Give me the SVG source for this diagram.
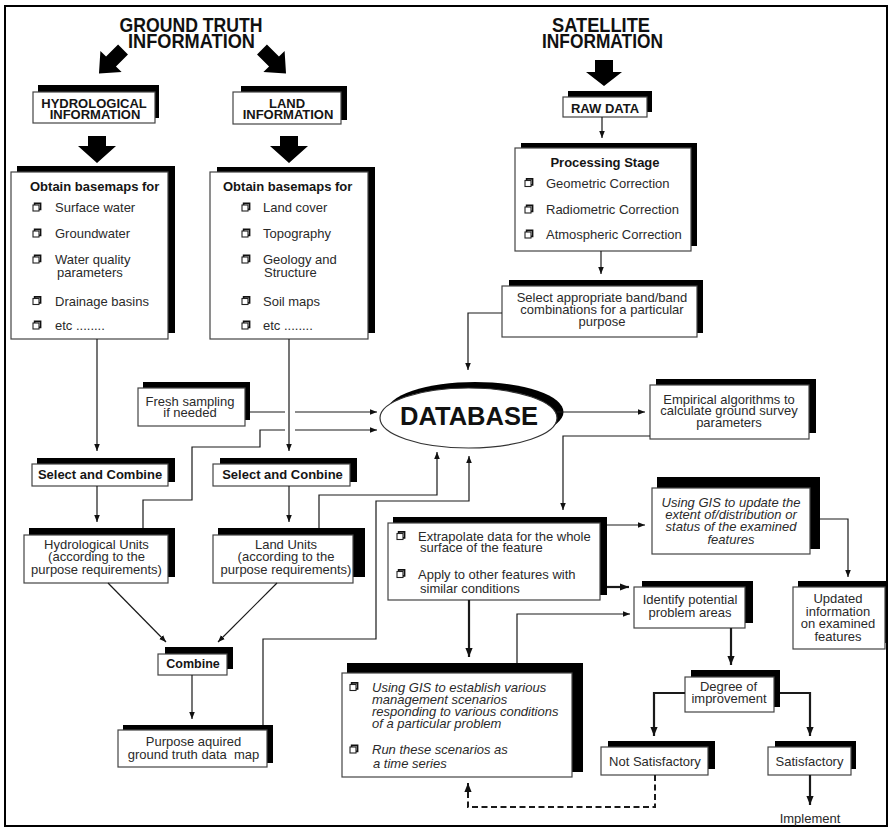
<svg xmlns="http://www.w3.org/2000/svg" width="891" height="829" viewBox="0 0 891 829">
<defs>
<style>
text{font-family:"Liberation Sans",Arial,Helvetica,sans-serif;font-size:13px;fill:#2a2a2a}
.b{font-weight:bold;fill:#151515}
.i{font-style:italic}
.m{text-anchor:middle}
.h{font-size:19.5px;font-weight:bold;fill:#111}
.db{font-size:25px;font-weight:bold;fill:#111}
.box{fill:#fff;stroke:#444;stroke-width:1.2}
.sh{fill:#000}
.ln{fill:none;stroke:#1a1a1a;stroke-width:1.2}
.thk{stroke-width:2.2}
.dash{stroke-width:2;stroke-dasharray:6 3.5}
.blk{fill:#000}
</style>
<marker id="ah" viewBox="0 0 10 10" refX="10" refY="5" markerWidth="7" markerHeight="7" markerUnits="userSpaceOnUse" orient="auto">
<path d="M0,1 L10,5 L0,9 z" fill="#111"/>
</marker>
<marker id="ahb" viewBox="0 0 10 10" refX="10" refY="5" markerWidth="9" markerHeight="9" markerUnits="userSpaceOnUse" orient="auto">
<path d="M0,1 L10,5 L0,9 z" fill="#111"/>
</marker>
<!-- drop-shadowed check square used in the lists -->
<g id="cb">
<path d="M1.6,-7 V-8.6 H7.6 V-2.6 H6" fill="none" stroke="#111" stroke-width="1.6"/>
<rect x="0" y="-7" width="6" height="6" fill="#fff" stroke="#222" stroke-width="1.1"/>
</g>
</defs>

<rect x="0" y="0" width="891" height="829" fill="#fff"/>
<rect x="5" y="6" width="882" height="820" fill="none" stroke="#000" stroke-width="2"/>

<!-- headings -->
<g id="ground-truth-title">
<text class="h m"><tspan x="191" y="32" textLength="143" lengthAdjust="spacingAndGlyphs">GROUND TRUTH</tspan><tspan x="191.5" y="48" textLength="127" lengthAdjust="spacingAndGlyphs">INFORMATION</tspan></text>
</g>
<g id="satellite-title">
<text class="h m"><tspan x="601" y="32" textLength="98" lengthAdjust="spacingAndGlyphs">SATELLITE</tspan><tspan x="602.5" y="48" textLength="121" lengthAdjust="spacingAndGlyphs">INFORMATION</tspan></text>
</g>

<!-- ground truth branch -->
<g id="hydro-info">
<rect class="sh" x="38" y="85" width="121" height="33"/>
<rect class="box" x="33" y="92" width="122" height="31"/>
<text class="b m"><tspan x="94" y="107.5">HYDROLOGICAL</tspan><tspan x="95" y="118.5">INFORMATION</tspan></text>
</g>
<g id="land-info">
<rect class="sh" x="241" y="86" width="106" height="34"/>
<rect class="box" x="233" y="92" width="108" height="32"/>
<text class="b m"><tspan x="287" y="107.5">LAND</tspan><tspan x="288" y="118.5">INFORMATION</tspan></text>
</g>

<g id="hydro-basemaps">
<rect class="sh" x="17" y="166" width="158" height="167"/>
<rect class="box" x="11" y="172" width="157" height="167"/>
<text class="b" x="30" y="191">Obtain basemaps for</text>
<use href="#cb" x="33" y="212"/><use href="#cb" x="33" y="238"/><use href="#cb" x="33" y="264"/><use href="#cb" x="33" y="305.5"/><use href="#cb" x="33" y="330"/>
<text><tspan x="55" y="212">Surface water</tspan><tspan x="55" y="238">Groundwater</tspan><tspan x="55" y="264">Water quality</tspan><tspan x="57" y="277">parameters</tspan><tspan x="55" y="305.5">Drainage basins</tspan><tspan x="55" y="330">etc ........</tspan></text>
</g>
<g id="land-basemaps">
<rect class="sh" x="217" y="167" width="158" height="166"/>
<rect class="box" x="210" y="172" width="158" height="167"/>
<text class="b" x="223" y="190.5">Obtain basemaps for</text>
<use href="#cb" x="242" y="212"/><use href="#cb" x="242" y="238"/><use href="#cb" x="242" y="264"/><use href="#cb" x="242" y="305.5"/><use href="#cb" x="242" y="330"/>
<text><tspan x="263" y="212">Land cover</tspan><tspan x="263" y="238">Topography</tspan><tspan x="263" y="264">Geology and</tspan><tspan x="264" y="277">Structure</tspan><tspan x="263" y="305.5">Soil maps</tspan><tspan x="263" y="330">etc ........</tspan></text>
</g>

<g id="fresh-sampling">
<rect class="sh" x="143" y="382" width="107" height="38"/>
<rect class="box" x="138" y="388" width="107" height="38"/>
<text class="m"><tspan x="190" y="405.5">Fresh sampling</tspan><tspan x="190" y="417">if needed</tspan></text>
</g>

<g id="hydro-select">
<rect class="sh" x="37" y="458" width="138" height="24"/>
<rect class="box" x="32" y="464" width="136" height="22"/>
<text class="b m" x="100" y="478.5">Select and Combine</text>
</g>
<g id="land-select">
<rect class="sh" x="220" y="458" width="137" height="24"/>
<rect class="box" x="213" y="464" width="137" height="22"/>
<text class="b m" x="282.5" y="478.5">Select and Conbine</text>
</g>

<g id="hydro-units">
<rect class="sh" x="29" y="528" width="146" height="49"/>
<rect class="box" x="24" y="535" width="144" height="48"/>
<text class="m"><tspan x="96.5" y="548.5">Hydrological Units</tspan><tspan x="96.5" y="561">(according to the</tspan><tspan x="96.5" y="573.5">purpose requirements)</tspan></text>
</g>
<g id="land-units">
<rect class="sh" x="218" y="528" width="147" height="49"/>
<rect class="box" x="213" y="535" width="140" height="48"/>
<text class="m"><tspan x="286" y="548.5">Land Units</tspan><tspan x="286" y="561">(according to the</tspan><tspan x="286" y="573.5">purpose requirements)</tspan></text>
</g>

<g id="combine">
<rect class="sh" x="165" y="647" width="68" height="22"/>
<rect class="box" x="158" y="654" width="69" height="21"/>
<text class="b m" x="193" y="668" style="font-size:12.5px">Combine</text>
</g>
<g id="purpose-map">
<rect class="sh" x="123" y="725" width="150" height="38"/>
<rect class="box" x="118" y="730" width="149" height="37"/>
<text class="m" xml:space="preserve"><tspan x="193.5" y="746">Purpose aquired</tspan><tspan x="193.5" y="758.5">ground truth data  map</tspan></text>
</g>

<!-- satellite branch -->
<g id="raw-data">
<rect class="sh" x="568" y="91" width="84" height="21"/>
<rect class="box" x="563" y="97" width="84" height="20"/>
<text class="b m" x="605" y="113">RAW DATA</text>
</g>
<g id="processing">
<rect class="sh" x="521" y="143" width="176" height="103"/>
<rect class="box" x="515" y="148" width="176" height="103"/>
<text class="b m" x="605" y="166.5">Processing Stage</text>
<use href="#cb" x="525" y="187.5"/><use href="#cb" x="525" y="214"/><use href="#cb" x="525" y="239"/>
<text><tspan x="546" y="187.5">Geometric Correction</tspan><tspan x="546" y="214">Radiometric Correction</tspan><tspan x="546" y="239">Atmospheric Correction</tspan></text>
</g>
<g id="band-select">
<rect class="sh" x="509" y="280" width="194" height="53"/>
<rect class="box" x="502" y="286" width="195" height="51"/>
<text class="m"><tspan x="602" y="302">Select appropriate band/band</tspan><tspan x="602" y="314">combinations for a particular</tspan><tspan x="602" y="325.5">purpose</tspan></text>
</g>

<g id="database">
<ellipse cx="475" cy="412" rx="88.5" ry="30" fill="#000"/>
<ellipse cx="468.5" cy="418" rx="88.5" ry="30" fill="#fff" stroke="#333" stroke-width="1.2"/>
<text class="db m" x="469" y="425" textLength="138" lengthAdjust="spacingAndGlyphs">DATABASE</text>
</g>

<g id="empirical">
<rect class="sh" x="656" y="379" width="160" height="54"/>
<rect class="box" x="650" y="385" width="159" height="54"/>
<text class="m"><tspan x="729" y="403.5">Empirical algorithms to</tspan><tspan x="729" y="415">calculate ground survey</tspan><tspan x="729" y="427">parameters</tspan></text>
</g>

<g id="extrapolate">
<rect class="sh" x="393" y="517" width="214" height="78"/>
<rect class="box" x="388" y="523" width="212" height="77"/>
<use href="#cb" x="397" y="540.5"/><use href="#cb" x="397" y="578.5"/>
<text><tspan x="418" y="540.5">Extrapolate data for the whole</tspan><tspan x="420" y="552">surface of the feature</tspan><tspan x="418" y="578.5">Apply to other features with</tspan><tspan x="420" y="593">similar conditions</tspan></text>
</g>

<g id="gis-update">
<rect class="sh" x="657" y="477" width="163" height="72"/>
<rect class="box" x="652" y="488" width="158" height="66"/>
<text class="i m"><tspan x="731" y="506.5">Using GIS to update the</tspan><tspan x="731" y="518.5">extent of/distribution or</tspan><tspan x="731" y="531">status of the examined</tspan><tspan x="731" y="543.5">features</tspan></text>
</g>

<g id="updated-info">
<rect class="sh" x="798" y="581" width="89" height="62"/>
<rect class="box" x="793" y="587" width="92" height="62"/>
<text class="m"><tspan x="838" y="603">Updated</tspan><tspan x="838" y="615.5">information</tspan><tspan x="838" y="628">on examined</tspan><tspan x="838" y="640.5">features</tspan></text>
</g>

<g id="identify">
<rect class="sh" x="642" y="581" width="111" height="42"/>
<rect class="box" x="634" y="587" width="111" height="41"/>
<text class="m"><tspan x="690" y="604">Identify potential</tspan><tspan x="690" y="616.5">problem areas</tspan></text>
</g>

<g id="gis-scenarios">
<rect class="sh" x="347" y="663" width="236" height="109"/>
<rect class="box" x="342" y="673" width="230" height="104"/>
<use href="#cb" x="350" y="691.5"/><use href="#cb" x="350" y="754"/>
<text class="i"><tspan x="372" y="691.5">Using GIS to establish various</tspan><tspan x="372" y="703.5">management scenarios</tspan><tspan x="372" y="716">responding to various conditions</tspan><tspan x="372" y="728">of a particular problem</tspan><tspan x="372" y="754">Run these scenarios as</tspan><tspan x="373" y="768">a time series</tspan></text>
</g>

<g id="degree">
<rect class="sh" x="691" y="670" width="89" height="37"/>
<rect class="box" x="685" y="677" width="89" height="35"/>
<text class="m"><tspan x="728.5" y="691">Degree of</tspan><tspan x="729" y="703">improvement</tspan></text>
</g>

<g id="not-satisfactory">
<rect class="sh" x="608" y="741" width="107" height="28"/>
<rect class="box" x="601" y="747" width="107" height="28"/>
<text class="m" x="655" y="766">Not Satisfactory</text>
</g>
<g id="satisfactory">
<rect class="sh" x="775" y="741" width="81" height="28"/>
<rect class="box" x="768" y="747" width="83" height="28"/>
<text class="m" x="809.5" y="766">Satisfactory</text>
</g>
<g id="implement">
<text class="m" x="810" y="823">Implement</text>
</g>

<!-- connectors -->
<g id="connectors">
<polygon class="blk" points="-7,-17 7,-17 7,0 15,0 0,17 -15,0 -7,0" transform="translate(111,61.5) rotate(45)"/>
<polygon class="blk" points="-7,-17 7,-17 7,0 15,0 0,17 -15,0 -7,0" transform="translate(274,61.5) rotate(-45)"/>
<polygon class="blk" points="88,136 106,136 106,146 116,146 97,163 78,146 88,146"/>
<polygon class="blk" points="280,136 298,136 298,146 308,146 289,163 270,146 280,146"/>
<polygon class="blk" points="595,60 613,60 613,72 622,72 604,86 586,72 595,72"/>

<path class="ln" d="M602,117 V138" marker-end="url(#ah)"/>
<path class="ln" d="M601,251 V274" marker-end="url(#ah)"/>
<path class="ln" d="M502,313 H468 V370" marker-end="url(#ah)"/>
<path class="ln" d="M97,339 V451" marker-end="url(#ah)"/>
<path class="ln" d="M289,339 V451" marker-end="url(#ah)"/>
<path class="ln" d="M250,412 H285 M295,412 H377" marker-end="url(#ah)"/>
<path class="ln" d="M143,528 V500 H192 V447 H260 V430 H285 M295,430 H377" marker-end="url(#ah)"/>
<path class="ln" d="M97,486 V522" marker-end="url(#ah)"/>
<path class="ln" d="M289,486 V522" marker-end="url(#ah)"/>
<path class="ln" d="M319,528 V495 H437 V452" marker-end="url(#ah)"/>
<path class="ln" d="M263,725 V639 H376 V501 H469 V456" marker-end="url(#ah)"/>
<path class="ln" d="M108,583 L166,642" marker-end="url(#ah)"/>
<path class="ln" d="M277,583 L218,642" marker-end="url(#ah)"/>
<path class="ln" d="M192,675 V719" marker-end="url(#ah)"/>
<path class="ln" d="M557,412 H645" marker-end="url(#ah)"/>
<path class="ln" d="M650,436 H563 V510" marker-end="url(#ah)"/>
<path class="ln" d="M607,525 H645" marker-end="url(#ah)"/>
<path class="ln thk" d="M607,587 H629" marker-end="url(#ahb)"/>
<path class="ln thk" d="M469,600 V657" marker-end="url(#ahb)"/>
<path class="ln" d="M517,663 V614 H630" marker-end="url(#ah)"/>
<path class="ln" d="M820,519 H848 V577" marker-end="url(#ah)"/>
<path class="ln thk" d="M731,628 V665" marker-end="url(#ahb)"/>
<path class="ln thk" d="M685,693 H654 V736" marker-end="url(#ahb)"/>
<path class="ln thk" d="M780,693 H810 V736" marker-end="url(#ahb)"/>
<path class="ln thk" d="M810,775 V805" marker-end="url(#ahb)"/>
<path class="ln dash" d="M655,775 V807 H468 V783" marker-end="url(#ahb)"/>
</g>
</svg>
